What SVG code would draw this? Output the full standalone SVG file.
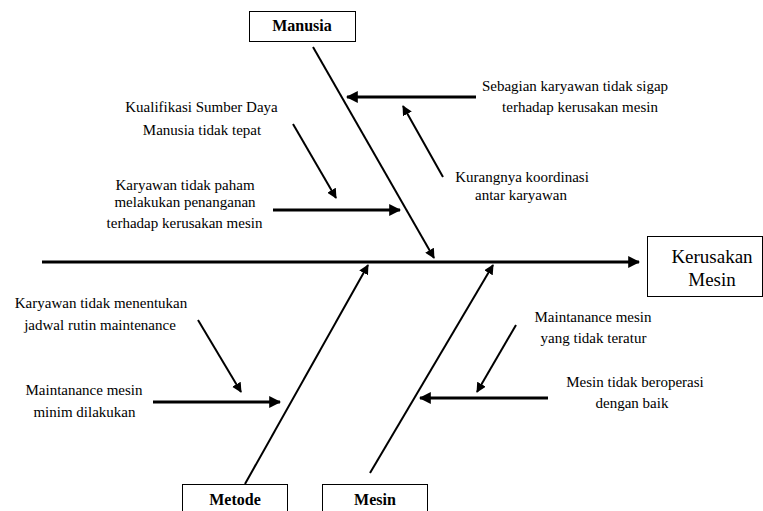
<svg xmlns="http://www.w3.org/2000/svg" width="763" height="511" viewBox="0 0 763 511">
<style>
text{fill:#000;text-anchor:middle}
.box{fill:#fff;stroke:#000;stroke-width:1}
.bone{stroke:#000;stroke-width:2;fill:none}
.h{stroke:#000;stroke-width:3;fill:none}
.d{stroke:#000;stroke-width:2;fill:none}
</style>
<defs>
<marker id="ah" viewBox="0 0 10 10" refX="9" refY="5" markerWidth="4" markerHeight="4" markerUnits="strokeWidth" orient="auto">
<path d="M0,0 L10,5 L0,10 z" fill="#000"/>
</marker>
<marker id="ah2" viewBox="0 0 10 10" refX="9" refY="5" markerWidth="5" markerHeight="5" markerUnits="strokeWidth" orient="auto">
<path d="M0,0 L10,5 L0,10 z" fill="#000"/>
</marker>
</defs>
<rect width="763" height="511" fill="#fff"/>
<g id="connectors">
<line class="h" x1="42" y1="262" x2="639" y2="262" marker-end="url(#ah)"/>
<line class="bone" x1="313" y1="47" x2="434" y2="258" marker-end="url(#ah2)"/>
<line class="bone" x1="245" y1="484" x2="368" y2="265" marker-end="url(#ah2)"/>
<line class="bone" x1="370" y1="473" x2="493" y2="265" marker-end="url(#ah2)"/>
<line class="h" x1="476" y1="97" x2="347" y2="97" marker-end="url(#ah)"/>
<line class="d" x1="443" y1="177" x2="403" y2="106" marker-end="url(#ah2)"/>
<line class="d" x1="293" y1="124" x2="336" y2="198" marker-end="url(#ah2)"/>
<line class="h" x1="273" y1="210" x2="400" y2="210" marker-end="url(#ah)"/>
<line class="d" x1="198" y1="320" x2="241" y2="392" marker-end="url(#ah2)"/>
<line class="h" x1="153" y1="402" x2="280" y2="402" marker-end="url(#ah)"/>
<line class="d" x1="516" y1="325" x2="477" y2="392" marker-end="url(#ah2)"/>
<line class="h" x1="548" y1="398" x2="420" y2="398" marker-end="url(#ah)"/>
</g>
<g id="effect">
<rect class="box" x="647.5" y="236.5" width="115" height="60"/>
<text font-family="Liberation Serif" font-size="19" x="712" y="263">Kerusakan</text>
<text font-family="Liberation Serif" font-size="19" x="712" y="286">Mesin</text>
</g>
<g id="manusia">
<rect class="box" x="249.5" y="11.5" width="106" height="30"/>
<text font-family="Liberation Serif" font-size="16" font-weight="bold" x="302" y="31">Manusia</text>
</g>
<g id="metode">
<rect class="box" x="182.5" y="484.5" width="105" height="30"/>
<text font-family="Liberation Serif" font-size="16" font-weight="bold" x="235" y="505">Metode</text>
</g>
<g id="mesin">
<rect class="box" x="322.5" y="484.5" width="105" height="30"/>
<text font-family="Liberation Serif" font-size="16" font-weight="bold" x="375" y="505">Mesin</text>
</g>
<g id="cause-sebagian">
<text font-family="Liberation Serif" font-size="15" x="575" y="91">Sebagian karyawan tidak sigap</text>
<text font-family="Liberation Serif" font-size="15" x="580" y="112">terhadap kerusakan mesin</text>
</g>
<g id="cause-kurangnya">
<text font-family="Liberation Serif" font-size="15" x="522" y="182">Kurangnya koordinasi</text>
<text font-family="Liberation Serif" font-size="15" x="521" y="200">antar karyawan</text>
</g>
<g id="cause-kualifikasi">
<text font-family="Liberation Serif" font-size="15" x="201.5" y="112">Kualifikasi Sumber Daya</text>
<text font-family="Liberation Serif" font-size="15" x="202" y="135">Manusia tidak tepat</text>
</g>
<g id="cause-paham">
<text font-family="Liberation Serif" font-size="15" x="185" y="190">Karyawan tidak paham</text>
<text font-family="Liberation Serif" font-size="15" x="185" y="207">melakukan penanganan</text>
<text font-family="Liberation Serif" font-size="15" x="184.5" y="228">terhadap kerusakan mesin</text>
</g>
<g id="cause-jadwal">
<text font-family="Liberation Serif" font-size="15" x="101" y="308">Karyawan tidak menentukan</text>
<text font-family="Liberation Serif" font-size="15" x="100" y="330">jadwal rutin maintenance</text>
</g>
<g id="cause-minim">
<text font-family="Liberation Serif" font-size="15" x="84" y="395">Maintanance mesin</text>
<text font-family="Liberation Serif" font-size="15" x="84.5" y="417">minim dilakukan</text>
</g>
<g id="cause-teratur">
<text font-family="Liberation Serif" font-size="15" x="593" y="322">Maintanance mesin</text>
<text font-family="Liberation Serif" font-size="15" x="593.5" y="343">yang tidak teratur</text>
</g>
<g id="cause-beroperasi">
<text font-family="Liberation Serif" font-size="15" x="635" y="387">Mesin tidak beroperasi</text>
<text font-family="Liberation Serif" font-size="15" x="632" y="408">dengan baik</text>
</g>
</svg>
